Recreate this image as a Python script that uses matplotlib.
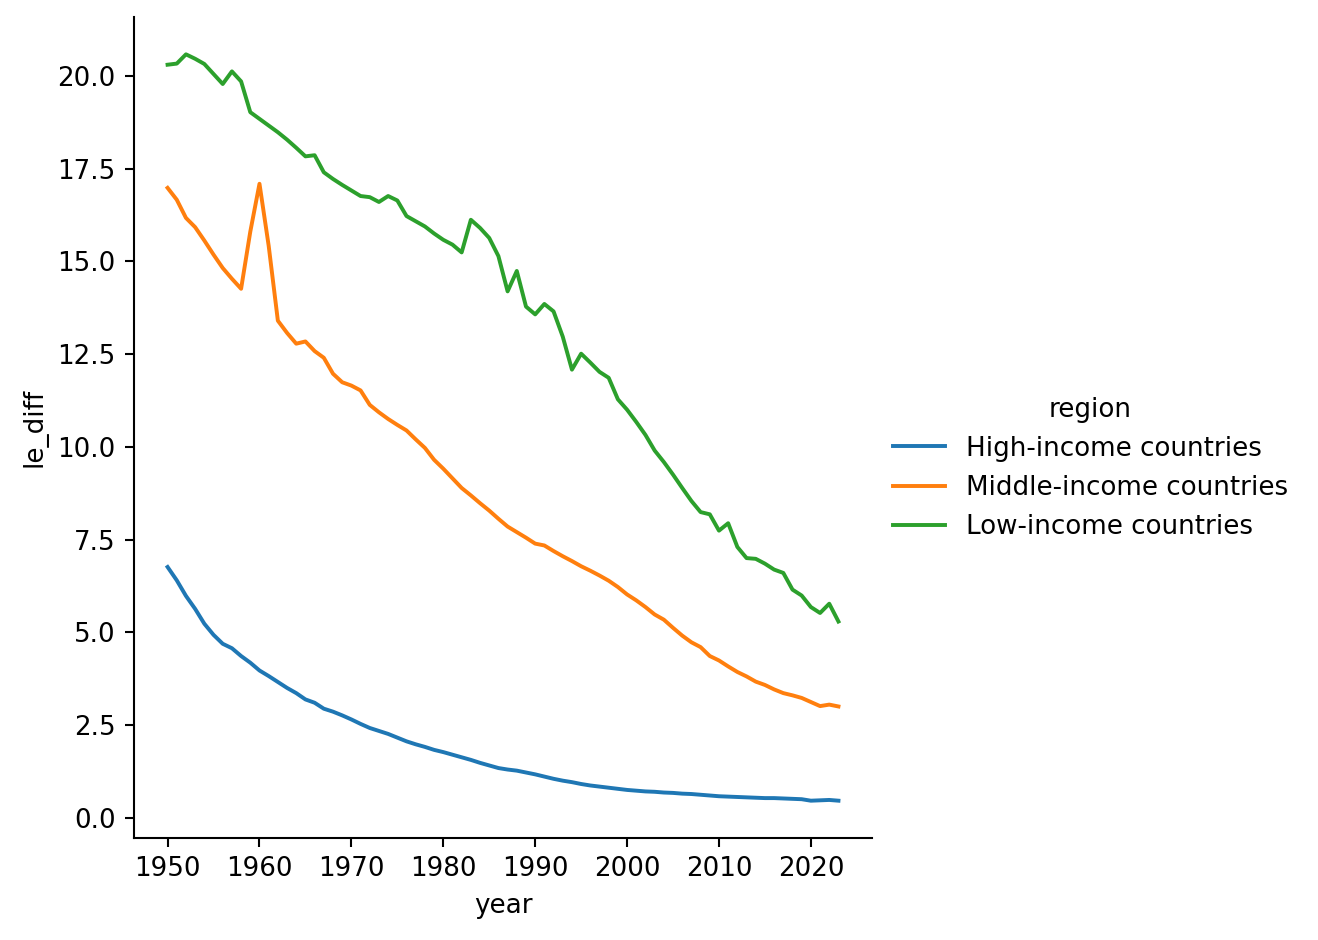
#!/usr/bin/env python3

import pandas as pd
import matplotlib
matplotlib.use("Agg")
import matplotlib.pyplot as plt
import seaborn as sns

years = list(range(1950, 2024))

high_income = [
    6.76, 6.40, 5.98, 5.63, 5.23, 4.93, 4.69, 4.57, 4.36, 4.18,
    3.97, 3.82, 3.66, 3.50, 3.36, 3.19, 3.10, 2.94, 2.86, 2.76,
    2.65, 2.53, 2.42, 2.34, 2.26, 2.16, 2.06, 1.98, 1.91, 1.83,
    1.77, 1.70, 1.63, 1.56, 1.48, 1.41, 1.34, 1.30, 1.27, 1.22,
    1.17, 1.11, 1.05, 1.00, 0.96, 0.91, 0.87, 0.84, 0.81, 0.78,
    0.75, 0.73, 0.71, 0.70, 0.68, 0.67, 0.65, 0.64, 0.62, 0.60,
    0.58, 0.57, 0.56, 0.55, 0.54, 0.53, 0.53, 0.52, 0.51, 0.50,
    0.46, 0.47, 0.48, 0.46,
]

middle_income = [
    16.98, 16.66, 16.17, 15.92, 15.56, 15.18, 14.82, 14.53, 14.26, 15.80,
    17.09, 15.42, 13.40, 13.07, 12.78, 12.84, 12.58, 12.40, 11.97, 11.74,
    11.65, 11.52, 11.13, 10.93, 10.75, 10.59, 10.44, 10.20, 9.97, 9.65,
    9.41, 9.15, 8.89, 8.69, 8.48, 8.28, 8.06, 7.85, 7.70, 7.55,
    7.39, 7.34, 7.19, 7.05, 6.92, 6.78, 6.66, 6.53, 6.39, 6.22,
    6.02, 5.86, 5.68, 5.48, 5.34, 5.12, 4.91, 4.73, 4.60, 4.36,
    4.24, 4.08, 3.93, 3.81, 3.67, 3.58, 3.46, 3.36, 3.30, 3.23,
    3.12, 3.01, 3.05, 3.00,
]

low_income = [
    20.30, 20.33, 20.58, 20.46, 20.32, 20.05, 19.78, 20.12, 19.85, 19.02,
    18.84, 18.66, 18.48, 18.28, 18.06, 17.83, 17.86, 17.40, 17.22, 17.06,
    16.91, 16.76, 16.73, 16.60, 16.76, 16.64, 16.22, 16.08, 15.94, 15.75,
    15.58, 15.45, 15.24, 16.12, 15.90, 15.63, 15.14, 14.19, 14.74, 13.78,
    13.57, 13.85, 13.65, 12.97, 12.08, 12.51, 12.27, 12.02, 11.86, 11.28,
    11.00, 10.67, 10.32, 9.90, 9.59, 9.25, 8.89, 8.54, 8.24, 8.18,
    7.74, 7.94, 7.30, 7.00, 6.98, 6.85, 6.69, 6.60, 6.15, 5.99,
    5.68, 5.52, 5.77, 5.29,
]

regions = ["High-income countries", "Middle-income countries", "Low-income countries"]

df = pd.concat([
    pd.DataFrame({"year": years, "le_diff": vals, "region": name})
    for name, vals in zip(regions, [high_income, middle_income, low_income])
])

dpi = 188
fig = plt.figure(figsize=(1318 / dpi, 940 / dpi), dpi=dpi)
ax = fig.add_axes([0.1017, 0.1085, 0.5599, 0.8734])

sns.lineplot(data=df, x="year", y="le_diff", hue="region", ax=ax)
sns.despine(ax=ax)

# legend outside on the right, like relplot
handles, labels = ax.get_legend_handles_labels()
ax.get_legend().remove()
fig.legend(handles, labels, title="region", frameon=False,
           loc="center left", bbox_to_anchor=(0.6595, 0.502))

fig.savefig("out.png", dpi=dpi)
